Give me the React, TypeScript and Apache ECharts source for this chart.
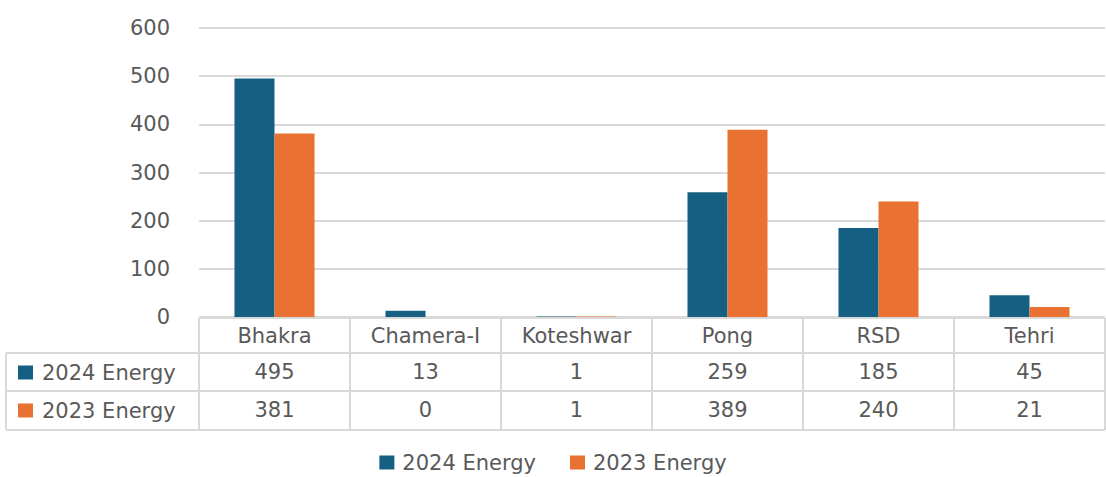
import React, { useEffect, useRef } from "react";
import * as echarts from "echarts";

const categories = ["Bhakra", "Chamera-I", "Koteshwar", "Pong", "RSD", "Tehri"];
const seriesNames = ["2024 Energy", "2023 Energy"];
const energy2024 = [495, 13, 1, 259, 185, 45];
const energy2023 = [381, 0, 1, 389, 240, 21];
const seriesColors = ["#156082", "#E97132"];
const yTicks = { min: 0, max: 600, interval: 100 };

const FONT = "DejaVu Sans";
const FS = 21;
const TEXT = "#595959";
const BORDER = "#d9d9d9";

const W = 1106;
const H = 477;
const GRID_LEFT = 199;
const GRID_RIGHT_X = 1105;
const GRID_TOP = 28;
const GRID_BOTTOM_Y = 317;

export default function App() {
  const ref = useRef<HTMLDivElement>(null);
  useEffect(() => {
    if (!ref.current) return;
    const chart = echarts.init(ref.current, undefined, { renderer: "svg" });
    const colW = (GRID_RIGHT_X - GRID_LEFT) / categories.length;
    const rowLines = [318, 353, 391, 430];
    const graphics: any[] = [];
    graphics.push({ type: "line", shape: { x1: GRID_LEFT, y1: rowLines[0], x2: GRID_RIGHT_X, y2: rowLines[0] }, style: { stroke: BORDER, lineWidth: 2 } });
    for (let i = 1; i < rowLines.length; i++) {
      graphics.push({ type: "line", shape: { x1: 6, y1: rowLines[i], x2: GRID_RIGHT_X, y2: rowLines[i] }, style: { stroke: BORDER, lineWidth: 2 } });
    }
    graphics.push({ type: "line", shape: { x1: 6, y1: rowLines[1], x2: 6, y2: rowLines[3] }, style: { stroke: BORDER, lineWidth: 2 } });
    for (let i = 0; i <= categories.length; i++) {
      const x = GRID_LEFT + i * colW;
      graphics.push({ type: "line", shape: { x1: x, y1: rowLines[0], x2: x, y2: rowLines[3] }, style: { stroke: BORDER, lineWidth: 2 } });
    }
    const rowCenters = [372.5, 410.5];
    seriesNames.forEach((name, i) => {
      graphics.push({ type: "rect", shape: { x: 18, y: rowCenters[i] - 7, width: 15, height: 14 }, style: { fill: seriesColors[i] } });
      graphics.push({
        type: "text",
        x: 42,
        y: rowCenters[i],
        style: { text: name, fill: TEXT, font: `${FS}px "${FONT}"`, verticalAlign: "middle", align: "left" },
      });
    });

    const makeAxis = (margin: number, formatter: any) => ({
      type: "category",
      data: categories,
      gridIndex: 0,
      position: "bottom",
      axisLine: { show: false },
      axisTick: { show: false },
      splitLine: { show: false },
      axisLabel: {
        interval: 0,
        margin,
        color: TEXT,
        fontFamily: FONT,
        fontSize: FS,
        formatter,
      },
    });

    chart.setOption({
      animation: false,
      textStyle: { fontFamily: FONT },
      grid: {
        left: GRID_LEFT,
        right: W - GRID_RIGHT_X,
        top: GRID_TOP,
        bottom: H - GRID_BOTTOM_Y,
        containLabel: false,
      },
      xAxis: [
        makeAxis(8, (v: string) => v),
        makeAxis(44, (_v: string, idx: number) => String(energy2024[idx])),
        makeAxis(82, (_v: string, idx: number) => String(energy2023[idx])),
      ],
      yAxis: {
        type: "value",
        min: yTicks.min,
        max: yTicks.max,
        interval: yTicks.interval,
        axisLine: { show: false },
        axisTick: { show: false },
        axisLabel: { color: TEXT, fontFamily: FONT, fontSize: FS, margin: 29 },
        splitLine: { lineStyle: { color: BORDER, width: 2 } },
      },
      legend: {
        data: seriesNames,
        left: "center",
        top: 452,
        padding: 0,
        icon: "rect",
        itemWidth: 15,
        itemHeight: 14,
        itemGap: 34,
        textStyle: { color: TEXT, fontFamily: FONT, fontSize: FS, padding: [0, 0, 0, 3] },
      },
      series: [
        {
          name: seriesNames[0],
          type: "bar",
          xAxisIndex: 0,
          data: energy2024,
          itemStyle: { color: seriesColors[0] },
          barGap: "0%",
          barCategoryGap: "47%",
        },
        {
          name: seriesNames[1],
          type: "bar",
          xAxisIndex: 0,
          data: energy2023,
          itemStyle: { color: seriesColors[1] },
          barGap: "0%",
          barCategoryGap: "47%",
        },
      ],
      graphic: graphics,
    });
    return () => chart.dispose();
  }, []);
  return (
    <div
      ref={ref}
      style={{ position: "fixed", left: 0, top: 0, width: W, height: H, background: "#fff" }}
    />
  );
}
